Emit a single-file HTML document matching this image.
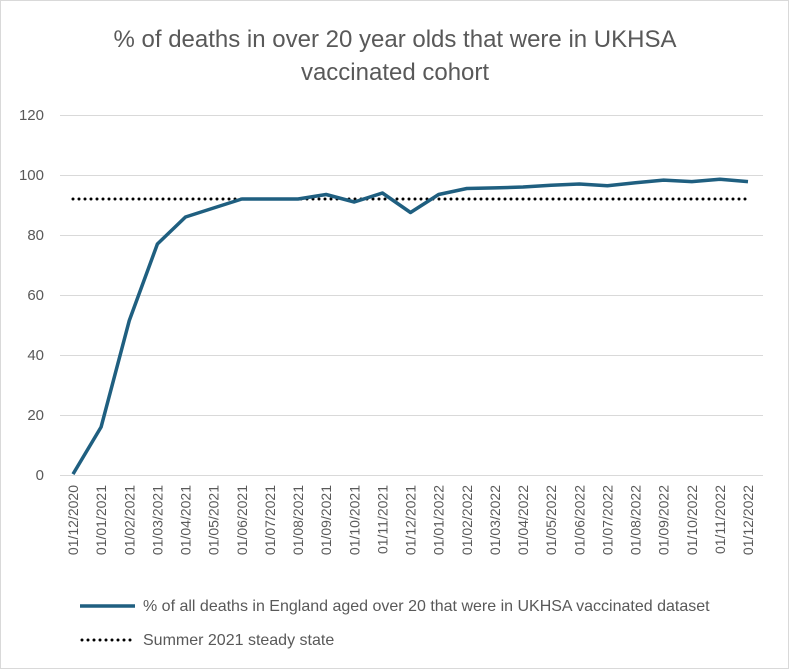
<!DOCTYPE html>
<html><head><meta charset="utf-8"><style>
body{margin:0;background:#fff;}
svg{display:block;font-family:"Liberation Sans",Arial,sans-serif;}
</style></head><body>
<svg width="789" height="669" viewBox="0 0 789 669">
<rect x="0.5" y="0.5" width="788" height="668" fill="#fff" stroke="#d9d9d9"/>
<text x="395" y="47" text-anchor="middle" font-size="24" fill="#595959">% of deaths in over 20 year olds that were in UKHSA</text>
<text x="395" y="80" text-anchor="middle" font-size="24" fill="#595959">vaccinated cohort</text>
<g stroke="#d9d9d9" stroke-width="1">
<line x1="60" x2="763" y1="115.5" y2="115.5"/>
<line x1="60" x2="763" y1="175.5" y2="175.5"/>
<line x1="60" x2="763" y1="235.5" y2="235.5"/>
<line x1="60" x2="763" y1="295.5" y2="295.5"/>
<line x1="60" x2="763" y1="355.5" y2="355.5"/>
<line x1="60" x2="763" y1="415.5" y2="415.5"/>
<line x1="60" x2="763" y1="475.5" y2="475.5"/>
</g>
<g font-size="15" fill="#595959" text-anchor="end">
<text x="44" y="120">120</text><text x="44" y="180">100</text><text x="44" y="240">80</text>
<text x="44" y="300">60</text><text x="44" y="360">40</text><text x="44" y="420">20</text><text x="44" y="480">0</text>
</g>
<g font-size="14" fill="#595959" text-anchor="end" id="xl"></g>
<line x1="73" x2="748" y1="199" y2="199" stroke="#000" stroke-width="3" stroke-dasharray="0 6" stroke-linecap="round"/>
<polyline id="ser" fill="none" stroke="#1f5f80" stroke-width="3.5" stroke-linejoin="round"/>
<line x1="80" x2="135" y1="606" y2="606" stroke="#1f5f80" stroke-width="3.5"/>
<text x="143" y="611" font-size="16" fill="#595959">% of all deaths in England aged over 20 that were in UKHSA vaccinated dataset</text>
<line x1="82" x2="135" y1="640" y2="640" stroke="#000" stroke-width="3" stroke-dasharray="0 6" stroke-linecap="round"/>
<text x="143" y="645" font-size="16" fill="#595959">Summer 2021 steady state</text>
</svg>
<script>
var d=[0.3,16,51.5,77,86,89,92,92,92,93.5,91,94,87.5,93.5,95.5,95.7,96,96.6,97,96.4,97.4,98.3,97.8,98.6,97.8];
var labels=[],pts=[];
for(var i=0;i<25;i++){
 var m=(11+i)%12+1,y=2020+Math.floor((11+i)/12);
 var x=73+i*28.125;
 pts.push(x.toFixed(1)+","+(475-d[i]*3).toFixed(1));
 labels.push('<text transform="translate('+(x+5)+',485) rotate(-90)">01/'+(m<10?'0':'')+m+'/'+y+'</text>');
}
document.getElementById('ser').setAttribute('points',pts.join(' '));
document.getElementById('xl').innerHTML=labels.join('');
</script>
</body></html>
